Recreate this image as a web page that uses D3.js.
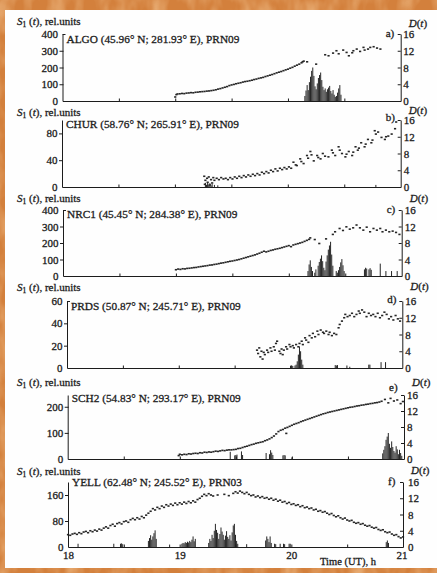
<!DOCTYPE html>
<html><head><meta charset="utf-8">
<script src="https://cdn.jsdelivr.net/npm/d3@7"></script>
<style>body{margin:0;background:#d8843e;} svg{display:block}</style>
</head><body><svg id="c" width="437" height="573"></svg>
<script>
// ---------------- DATA ----------------
const stationNames = [
  "ALGO (45.96° N; 281.93° E), PRN09",
  "CHUR (58.76° N; 265.91° E), PRN09",
  "NRC1 (45.45° N; 284.38° E), PRN09",
  "PRDS (50.87° N; 245.71° E), PRN09",
  "SCH2 (54.83° N; 293.17° E), PRN09",
  "YELL (62.48° N; 245.52° E), PRN03"
];
const panelLetters = ["a)", "b)", "c)", "d)", "e)", "f)"];
const s1Max = [400, 100, 400, 60, 245, 200];
const s1Ticks = [[0,100,200,300,400],[0,40,80],[0,100,200,300,400],[0,20,40,60],[0,100,200],[0,80,160]];
const dTicks = [0,4,8,12,16];
const timeTicks = [18,18.5,19,19.5,20,20.5,21];
const timeLabels = [18,19,20,21];

const algoS1 = [[19.00,24],[19.01,38],[19.02,42],[19.04,43],[19.06,45],[19.08,44],[19.10,47],[19.12,48],[19.14,50],[19.16,49],[19.18,52],[19.20,53],[19.22,55],[19.24,56],[19.26,57],[19.28,59],[19.30,60],[19.32,62],[19.34,64],[19.36,67],[19.38,71],[19.40,74],[19.42,78],[19.44,82],[19.46,86],[19.48,92],[19.50,96],[19.52,99],[19.54,103],[19.56,106],[19.58,109],[19.60,113],[19.62,116],[19.64,118],[19.66,121],[19.68,124],[19.70,128],[19.72,131],[19.74,135],[19.76,138],[19.78,141],[19.80,146],[19.82,150],[19.84,154],[19.86,158],[19.88,163],[19.90,168],[19.92,172],[19.94,176],[19.96,181],[19.98,186],[20.00,190],[20.02,196],[20.04,201],[20.06,208],[20.08,214],[20.10,220],[20.12,228],[20.13,234],[20.14,238],[20.17,234],[20.25,220],[20.33,276],[20.36,270],[20.40,286],[20.43,300],[20.45,282],[20.49,304],[20.52,290],[20.54,270],[20.57,288],[20.58,300],[20.61,310],[20.64,296],[20.67,320],[20.68,304],[20.71,310],[20.73,320],[20.76,324],[20.79,316],[20.82,310]];
const algoD = [[20.15,1.2],[20.16,2.5],[20.17,3.8],[20.18,2.6],[20.19,4.5],[20.20,5.8],[20.21,7.2],[20.22,8],[20.23,6],[20.24,3.5],[20.25,2.8],[20.26,4.2],[20.27,5.5],[20.28,6.2],[20.29,6.8],[20.30,5],[20.31,3.4],[20.32,2.6],[20.33,3],[20.34,2.2],[20.35,2.8],[20.36,3.2],[20.37,3.6],[20.38,2.4],[20.39,1.8],[20.40,2.6],[20.41,1.5],[20.42,1],[20.43,1.2],[20.44,2],[20.45,3],[20.46,3.8],[20.47,1.5]];

const churS1 = [[19.26,16],[19.265,4],[19.27,10],[19.28,2],[19.285,13],[19.29,7],[19.30,15],[19.31,3],[19.32,11],[19.33,6],[19.34,14],[19.35,10],[19.37,13],[19.39,11],[19.41,14],[19.43,12],[19.45,13],[19.47,11],[19.49,14],[19.51,12],[19.53,15],[19.55,13],[19.57,16],[19.59,14],[19.61,17],[19.63,15],[19.65,18],[19.67,16],[19.69,19],[19.71,17],[19.73,20],[19.75,18],[19.77,22],[19.79,20],[19.81,23],[19.83,21],[19.85,25],[19.87,23],[19.89,27],[19.91,24],[19.93,28],[19.95,26],[19.97,29],[19.99,27],[20.01,30],[20.03,28],[20.05,37],[20.07,33],[20.08,32],[20.11,42],[20.12,38],[20.14,35],[20.17,47],[20.18,43],[20.20,53],[20.21,48],[20.23,39],[20.26,47],[20.27,44],[20.29,42],[20.31,50],[20.33,46],[20.36,45],[20.39,55],[20.40,51],[20.42,47],[20.45,60],[20.46,55],[20.48,50],[20.51,45],[20.52,49],[20.54,53],[20.57,47],[20.58,52],[20.60,60],[20.62,55],[20.63,58],[20.65,66],[20.68,60],[20.69,64],[20.71,71],[20.74,66],[20.75,70],[20.77,84],[20.78,79],[20.80,82],[20.83,74],[20.86,71],[20.87,75],[20.89,76],[20.92,79],[20.95,87],[20.96,97]];
const churD = [[19.27,1.0],[19.28,0.5],[19.29,1.2],[19.30,0.6],[19.31,0.9],[19.32,0.4],[19.33,0.7],[19.35,0.5],[19.38,0.4],[20.78,0.5]];

const nrcS1 = [[19.00,38],[19.02,42],[19.04,40],[19.06,44],[19.08,43],[19.10,46],[19.12,47],[19.14,49],[19.16,51],[19.18,52],[19.20,55],[19.22,57],[19.24,59],[19.26,61],[19.28,63],[19.30,66],[19.32,67],[19.34,70],[19.36,72],[19.38,75],[19.40,78],[19.42,80],[19.44,83],[19.46,86],[19.48,89],[19.50,91],[19.52,94],[19.54,97],[19.56,100],[19.58,104],[19.60,108],[19.62,112],[19.64,116],[19.66,120],[19.68,124],[19.70,128],[19.72,133],[19.74,138],[19.76,144],[19.78,150],[19.80,146],[19.82,150],[19.84,155],[19.86,158],[19.88,162],[19.90,165],[19.92,168],[19.94,172],[19.96,176],[19.98,180],[20.00,184],[20.02,178],[20.04,188],[20.06,192],[20.08,196],[20.10,200],[20.12,204],[20.14,210],[20.16,216],[20.18,222],[20.19,231],[20.23,221],[20.27,197],[20.33,225],[20.39,252],[20.41,268],[20.45,288],[20.48,276],[20.51,298],[20.54,284],[20.57,292],[20.60,309],[20.63,292],[20.66,278],[20.69,296],[20.72,268],[20.75,288],[20.78,278],[20.81,288],[20.83,268],[20.86,278],[20.89,268],[20.92,272],[20.95,264],[20.98,252]];
const nrcD = [[20.17,1.2],[20.18,2.8],[20.19,3.8],[20.20,2.2],[20.21,1.2],[20.23,0.8],[20.24,1.6],[20.26,2.5],[20.27,3.4],[20.28,4.2],[20.29,5],[20.30,3.6],[20.31,2],[20.32,1.4],[20.33,3.5],[20.34,5],[20.35,6.4],[20.36,7.4],[20.37,8.3],[20.38,5.2],[20.39,2.5],[20.42,1.2],[20.43,0.8],[20.44,1.4],[20.45,2.2],[20.46,3.3],[20.47,4.1],[20.48,2.6],[20.49,1.2],[20.67,1.6],[20.68,2],[20.69,1.8],[20.71,1.6],[20.72,1.9],[20.73,1.5],[20.81,3],[20.86,1.2],[20.91,1.2],[20.96,1.2]];

const prdsS1 = [[19.70,16],[19.71,13],[19.72,18],[19.73,10],[19.74,15],[19.75,8],[19.76,14],[19.77,12],[19.79,16],[19.80,14],[19.82,18],[19.83,15],[19.85,19],[19.86,16],[19.87,22],[19.88,24],[19.90,15],[19.91,13],[19.92,17],[19.93,12],[19.94,16],[19.96,19],[19.97,17],[19.99,21],[20.00,19],[20.02,20],[20.03,18],[20.05,21],[20.07,19],[20.08,22],[20.10,24],[20.11,21],[20.13,27],[20.14,25],[20.16,23],[20.17,29],[20.19,27],[20.20,31],[20.22,28],[20.24,33],[20.25,30],[20.27,34],[20.29,32],[20.30,31],[20.32,33],[20.34,30],[20.35,32],[20.37,29],[20.39,31],[20.41,30],[20.43,36],[20.44,39],[20.46,42],[20.48,45],[20.49,48],[20.51,46],[20.53,47],[20.55,49],[20.57,46],[20.59,48],[20.61,51],[20.62,49],[20.64,52],[20.66,50],[20.68,46],[20.70,49],[20.72,47],[20.74,48],[20.76,46],[20.78,49],[20.80,45],[20.82,47],[20.84,50],[20.86,48],[20.88,44],[20.90,46],[20.92,43],[20.94,47],[20.96,44],[20.98,42]];
const prdsD = [[20.00,0.5],[20.01,0.6],[20.02,0.5],[20.04,0.6],[20.05,0.8],[20.06,1.6],[20.07,3.2],[20.08,5.1],[20.09,4.0],[20.10,2.0],[20.11,0.8],[20.40,0.7],[20.41,0.6],[20.42,0.7],[20.53,0.3],[20.70,0.8],[20.71,0.8],[20.81,1.4],[20.85,1.4]];

const sch2S1 = [[18.99,13],[19.00,18],[19.02,16],[19.04,18],[19.06,17],[19.08,20],[19.10,19],[19.12,21],[19.14,22],[19.16,21],[19.18,24],[19.20,23],[19.22,26],[19.24,25],[19.26,27],[19.28,26],[19.30,28],[19.32,30],[19.34,29],[19.36,31],[19.38,33],[19.40,32],[19.42,34],[19.44,35],[19.46,35],[19.48,36],[19.50,37],[19.52,40],[19.54,41],[19.56,44],[19.58,47],[19.60,49],[19.62,52],[19.64,55],[19.66,57],[19.68,60],[19.70,62],[19.72,64],[19.74,66],[19.76,70],[19.78,73],[19.80,77],[19.82,82],[19.84,88],[19.86,96],[19.88,105],[19.90,110],[19.92,113],[19.94,118],[19.95,98],[19.96,121],[19.98,125],[20.00,129],[20.02,133],[20.04,136],[20.06,139],[20.08,143],[20.10,146],[20.12,149],[20.14,152],[20.16,155],[20.18,158],[20.20,161],[20.22,164],[20.24,167],[20.26,170],[20.28,173],[20.30,175],[20.32,178],[20.34,180],[20.36,182],[20.38,184],[20.40,186],[20.42,188],[20.44,190],[20.46,192],[20.48,194],[20.50,196],[20.52,198],[20.54,199],[20.56,201],[20.58,203],[20.60,204],[20.62,206],[20.64,207],[20.66,209],[20.68,210],[20.70,212],[20.72,213],[20.74,215],[20.76,216],[20.78,218],[20.80,221],[20.83,228],[20.86,215],[20.88,232],[20.91,222],[20.94,226],[20.97,212],[20.99,220]];
const sch2D = [[19.45,1.8],[19.49,0.9],[19.50,1.0],[19.51,1.1],[19.55,1.9],[19.56,1.0],[19.77,1.5],[19.80,1.2],[19.81,2.2],[19.82,1.6],[19.83,1.0],[19.92,0.9],[19.93,1.0],[19.94,0.9],[20.00,0.4],[20.81,1.4],[20.82,2.3],[20.83,3.2],[20.84,4.8],[20.85,5.6],[20.86,6.5],[20.87,3.8],[20.88,2.8],[20.89,4.4],[20.90,3.0],[20.91,2.0],[20.92,1.6],[20.93,3.2],[20.94,2.4],[20.95,1.2],[20.96,2.3],[20.97,1.5],[20.98,0.8]];

const yellS1 = [[18.00,38],[18.02,36],[18.04,40],[18.06,42],[18.08,39],[18.10,44],[18.12,41],[18.14,46],[18.16,48],[18.18,44],[18.20,50],[18.22,47],[18.24,52],[18.26,49],[18.28,55],[18.30,52],[18.32,58],[18.34,62],[18.36,58],[18.38,66],[18.40,70],[18.42,64],[18.44,72],[18.46,75],[18.48,71],[18.50,78],[18.52,80],[18.54,76],[18.56,84],[18.58,88],[18.60,84],[18.62,90],[18.64,86],[18.66,94],[18.68,90],[18.70,98],[18.72,104],[18.74,110],[18.76,118],[18.78,114],[18.80,122],[18.82,118],[18.84,126],[18.86,122],[18.88,130],[18.90,126],[18.92,132],[18.94,128],[18.96,135],[18.98,130],[19.00,136],[19.02,132],[19.04,138],[19.06,134],[19.08,140],[19.10,136],[19.12,142],[19.14,138],[19.16,146],[19.18,150],[19.20,156],[19.22,162],[19.24,158],[19.26,164],[19.28,160],[19.30,157],[19.34,160],[19.40,162],[19.44,158],[19.48,165],[19.50,170],[19.52,166],[19.54,172],[19.56,168],[19.58,164],[19.60,168],[19.62,162],[19.64,158],[19.66,160],[19.68,154],[19.70,157],[19.72,152],[19.74,155],[19.76,150],[19.78,152],[19.80,147],[19.82,150],[19.84,144],[19.86,147],[19.88,141],[19.90,144],[19.92,138],[19.94,140],[19.96,134],[19.98,137],[20.00,131],[20.02,133],[20.04,128],[20.06,130],[20.08,124],[20.10,127],[20.12,121],[20.14,123],[20.16,118],[20.18,120],[20.20,114],[20.22,116],[20.24,110],[20.26,112],[20.28,107],[20.30,109],[20.32,104],[20.34,100],[20.36,103],[20.38,97],[20.40,93],[20.42,96],[20.44,90],[20.46,86],[20.48,89],[20.50,83],[20.52,80],[20.54,82],[20.56,76],[20.58,73],[20.60,75],[20.62,70],[20.64,72],[20.66,67],[20.68,64],[20.70,66],[20.72,61],[20.74,58],[20.76,60],[20.78,54],[20.80,51],[20.82,53],[20.84,47],[20.86,44],[20.88,46],[20.90,40],[20.92,36],[20.94,38],[20.96,32],[20.98,28],[21.00,31]];
const yellD = [[18.09,0.8],[18.41,0.8],[18.47,0.8],[18.48,0.9],[18.49,0.7],[18.72,1.5],[18.73,2.2],[18.74,2.9],[18.75,1.8],[18.76,2.6],[18.77,3.4],[18.78,4.1],[18.79,2.0],[18.91,0.6],[19.02,0.8],[19.03,1.0],[19.04,0.9],[19.05,1.2],[19.06,1.0],[19.07,1.3],[19.08,1.1],[19.09,1.5],[19.10,1.2],[19.11,1.8],[19.12,2.6],[19.13,1.4],[19.14,2.0],[19.26,1.0],[19.27,2.0],[19.28,1.5],[19.29,3.0],[19.30,2.2],[19.31,4.0],[19.32,5.7],[19.33,4.2],[19.34,3.5],[19.35,2.0],[19.36,3.2],[19.37,4.8],[19.38,3.8],[19.39,3.0],[19.40,1.8],[19.41,2.8],[19.42,3.9],[19.43,2.5],[19.44,2.0],[19.45,2.9],[19.46,1.6],[19.47,3.6],[19.48,5.3],[19.49,5.7],[19.50,3.0],[19.51,1.5],[19.52,0.8],[19.60,0.7],[19.77,1.6],[19.78,2.6],[19.79,2.0],[19.80,1.2],[19.81,2.6],[19.82,1.0],[19.85,0.8],[19.86,0.7],[19.90,0.8],[19.93,0.8],[19.94,0.7],[19.98,0.8],[19.99,0.8],[20.85,1.2],[20.86,1.6],[20.87,1.0]];

const s1Series = [algoS1, churS1, nrcS1, prdsS1, sch2S1, yellS1];
const dSeries = [algoD, churD, nrcD, prdsD, sch2D, yellD];

// ---------------- LAYOUT ----------------
const tops    = [34, 120, 210, 301, 395, 482];
const bottoms = [101, 187, 276, 368, 459, 547];
const lefts   = [62.5, 62, 63, 67, 67.7, 68];
const rights  = [400.7, 400.7, 401.7, 402.3, 404, 403];
const headY   = [25, 116, 202, 291, 386, 475];
const dHeadY  = [27, 113.5, 202, 290, 386, 473.5];
const nameY   = [43, 128, 218, 310, 402, 486];
const letterY = [37, 121, 213, 303, 391, 485];
const rPad    = [2.5, 3, 3, 3, 3, 5];

const FONT = "'Liberation Serif','DejaVu Serif',serif";
const INK = "#1c1c1c";
const svg = d3.select("#c");

// background texture
const defs = svg.append("defs");
const f = defs.append("filter").attr("id","tex").attr("x",0).attr("y",0).attr("width","100%").attr("height","100%");
f.append("feTurbulence").attr("type","fractalNoise").attr("baseFrequency","0.06 0.03").attr("numOctaves",3).attr("seed",4);
f.append("feColorMatrix").attr("type","matrix")
  .attr("values","0 0 0 0 0.93  0 0 0 0 0.60  0 0 0 0 0.32  1.2 0 0 0 -0.45");
svg.append("rect").attr("width",437).attr("height",573).attr("fill","#d3803c");
svg.append("rect").attr("width",437).attr("height",573).attr("filter","url(#tex)");
svg.append("rect").attr("x",5).attr("y",10).attr("width",432).attr("height",558).attr("fill","#fefefe");

function styleText(sel, size) {
  return sel.attr("font-family", FONT).attr("font-size", size).attr("fill", INK)
    .attr("stroke", INK).attr("stroke-width", 0.3);
}

s1Series.forEach((s1, i) => {
  const L = lefts[i], R = rights[i], T = tops[i], B = bottoms[i];
  const x = d3.scaleLinear().domain([18,21]).range([L,R]);
  const y = d3.scaleLinear().domain([0,s1Max[i]]).range([B,T]);
  const yd = d3.scaleLinear().domain([0,16]).range([B,T]);
  const g = svg.append("g");

  // D(t) bars
  g.append("g").selectAll("rect").data(dSeries[i]).join("rect")
    .attr("x", d => x(d[0]) - 0.5).attr("width", 1)
    .attr("y", d => yd(d[1])).attr("height", d => B - yd(d[1]))
    .attr("fill", "#262626");

  // S1 points (small dash markers)
  g.append("g").selectAll("rect").data(s1).join("rect")
    .attr("x", d => x(d[0]) - 1.1).attr("y", d => y(d[1]) - 0.8)
    .attr("width", 2.2).attr("height", 1.6)
    .attr("fill", "#262626");

  // left axis
  const gl = g.append("g").attr("transform", `translate(${L},0)`)
    .call(d3.axisLeft(y).tickValues(s1Ticks[i]).tickSize(3).tickSizeOuter(0).tickPadding(1.5));
  gl.selectAll(".tick line").attr("x1", d => d === s1Max[i] ? 0 : 1).attr("x2", d => d === s1Max[i] ? 3 : -3);
  gl.selectAll(".tick").filter(d => d === 0).select("line").remove();

  // right axis
  const gr = g.append("g").attr("transform", `translate(${R},0)`)
    .call(d3.axisRight(yd).tickValues(dTicks).tickSize(-3).tickSizeOuter(0).tickPadding(rPad[i]));
  gr.selectAll(".tick").filter(d => d === 0).select("line").remove();

  // bottom axis
  const gb = g.append("g").attr("transform", `translate(0,${B})`)
    .call(d3.axisBottom(x).tickValues(timeTicks).tickSize(-2.5).tickSizeOuter(0).tickPadding(4)
      .tickFormat(d => (i === 5 && timeLabels.includes(d)) ? d : ""));
  gb.selectAll(".tick").filter(d => d === 18 || d === 21).select("line").remove();
  if (i === 5) gb.selectAll(".tick").filter(d => d === 21).select("text").attr("dx", -1.5);

  [gl, gr, gb].forEach(a => {
    a.select(".domain").attr("stroke", INK).attr("stroke-width", 1);
    a.selectAll(".tick line").attr("stroke", INK);
    styleText(a.selectAll("text"), 11);
  });

  // left heading S1(t), rel.units
  const h = styleText(g.append("text").attr("x", 17).attr("y", headY[i]), 11);
  h.append("tspan").attr("font-style","italic").text("S");
  h.append("tspan").attr("font-size", 7.5).attr("dy", 2).text("1");
  h.append("tspan").attr("dy", -2).text(" (");
  h.append("tspan").attr("font-style","italic").text("t");
  h.append("tspan").text("), rel.units");

  // right heading D(t)
  const hr = styleText(g.append("text").attr("x", R + 8).attr("y", dHeadY[i]), 11);
  hr.append("tspan").attr("font-style","italic").text("D");
  hr.append("tspan").text("(");
  hr.append("tspan").attr("font-style","italic").text("t");
  hr.append("tspan").text(")");

  // station name
  styleText(g.append("text").attr("x", L + 4).attr("y", nameY[i]), 11.3)
    .text(stationNames[i]);

  // panel letter
  styleText(g.append("text").attr("x", R - 15).attr("y", letterY[i]), 11)
    .text(panelLetters[i]);
});

// x-axis title
styleText(svg.append("text").attr("x", 320).attr("y", 565), 10.5)
  .text("Time (UT), h");
</script>
</body></html>
